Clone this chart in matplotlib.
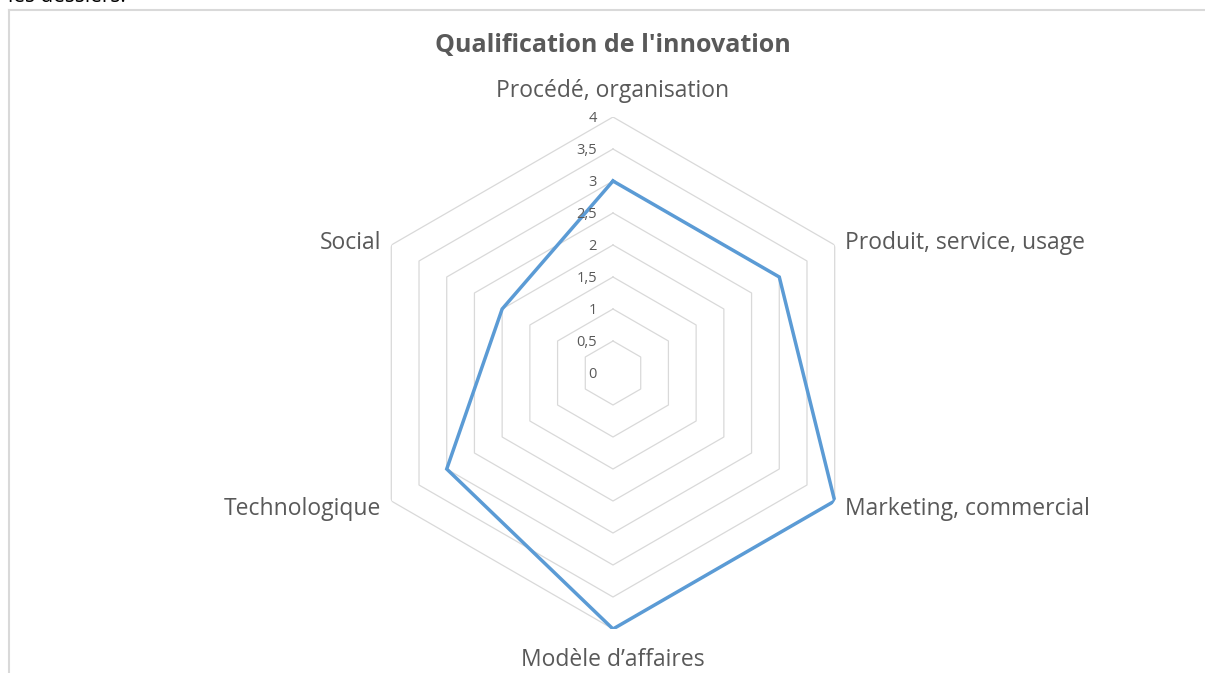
import numpy as np
import matplotlib
matplotlib.use("Agg")
import matplotlib.pyplot as plt
from matplotlib.lines import Line2D

categories = ["Procédé, organisation", "Produit, service, usage", "Marketing, commercial",
              "Modèle d\u2019affaires", "Technologique", "Social"]
values = [3, 3, 4, 4, 3, 2]
levels = [0.5, 1, 1.5, 2, 2.5, 3, 3.5, 4]
tick_values = [0, 0.5, 1, 1.5, 2, 2.5, 3, 3.5, 4]
tick_labels = ["0", "0,5", "1", "1,5", "2", "2,5", "3", "3,5", "4"]
title = "Qualification de l'innovation"

plt.rcParams['font.family'] = ['Open Sans', 'DejaVu Sans']

W, H = 1205, 673
fig = plt.figure(figsize=(W / 100, H / 100), dpi=100)

# frame (top and left edges only visible)
fig.add_artist(Line2D([9 / W, 1.0], [1 - 10 / H, 1 - 10 / H], transform=fig.transFigure,
                      color='#d9d9d9', linewidth=1.5))
fig.add_artist(Line2D([9 / W, 9 / W], [0, 1 - 10 / H], transform=fig.transFigure,
                      color='#d9d9d9', linewidth=1.5))
fig.text(8 / W, 1 - 2 / H, "les dessiers.", fontsize=15, color='black', ha='left', va='baseline')

cx, cy, R = 613, 373, 256
ax = fig.add_axes([(cx - R) / W, (H - cy - R) / H, 2 * R / W, 2 * R / H], projection='polar')
ax.set_theta_zero_location('N')
ax.set_theta_direction(-1)
ax.set_ylim(0, 4)
ax.grid(False)
ax.spines['polar'].set_visible(False)
ax.set_xticks([])
ax.set_yticks([])
ax.patch.set_alpha(0)

n = len(categories)
angles = np.linspace(0, 2 * np.pi, n, endpoint=False)
closed = np.concatenate([angles, angles[:1]])

for lv in levels:
    ax.plot(closed, [lv] * (n + 1), color='#d9d9d9', linewidth=0.9, zorder=1)

vals = values + values[:1]
ax.plot(closed, vals, color='#5B9BD5', linewidth=2.5, zorder=3, solid_joinstyle='miter')

for tv, tl in zip(tick_values, tick_labels):
    ax.annotate(tl, xy=(0, tv), xytext=(-16, -2), textcoords='offset pixels',
                ha='right', va='center', fontsize=10.5, color='#595959', zorder=4)

label_style = dict(fontsize=16.5, color='#595959')
offsets = [(0, 26, 'center', 'center'), (10, 2, 'left', 'center'), (10, -8, 'left', 'center'),
           (0, -31, 'center', 'center'), (-10, -8, 'right', 'center'), (-10, 2, 'right', 'center')]
for ang, cat, (dx, dy, ha, va) in zip(angles, categories, offsets):
    ax.annotate(cat, xy=(ang, 4), xytext=(dx, dy), textcoords='offset pixels',
                ha=ha, va=va, **label_style)

fig.text(cx / W, 1 - 46 / H, title, ha='center', va='center', fontsize=18,
         fontweight='bold', color='#595959')

fig.savefig("out.png", dpi=100)
